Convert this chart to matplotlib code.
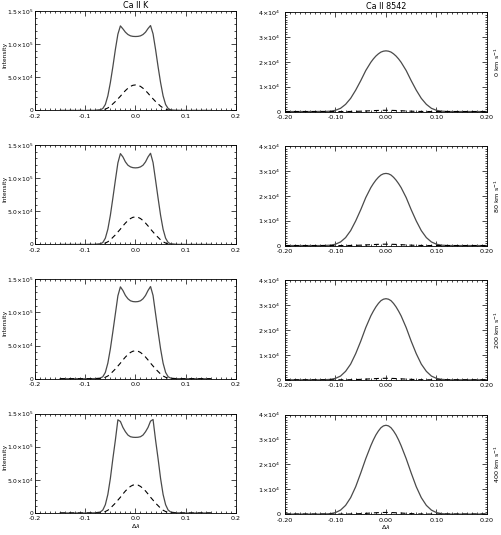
import numpy as np
import matplotlib
matplotlib.use('Agg')
import matplotlib.pyplot as plt
from matplotlib.ticker import FixedLocator, MultipleLocator

# wavelength grids
lx = [-0.15, -0.10, -0.08, -0.07, -0.065, -0.06, -0.055, -0.05, -0.045, -0.04, -0.035, -0.03,
      -0.025, -0.02, -0.015, -0.01, -0.005, 0.0, 0.005, 0.01, 0.015, 0.02, 0.025, 0.03,
      0.035, 0.04, 0.045, 0.05, 0.055, 0.06, 0.065, 0.07, 0.08, 0.10, 0.15]
rx = [-0.20, -0.15, -0.13, -0.12, -0.11, -0.10, -0.09, -0.08, -0.07, -0.06, -0.05, -0.04,
      -0.03, -0.025, -0.02, -0.015, -0.01, -0.005, 0.0, 0.005, 0.01, 0.015, 0.02, 0.025, 0.03,
      0.04, 0.05, 0.06, 0.07, 0.08, 0.09, 0.10, 0.11, 0.12, 0.13, 0.15, 0.20]

# Ca II K, solid and dashed
k_solid_0 = [0, 0, 200, 1000, 3000, 9000, 22000, 42000, 66000, 92000, 115000, 127500,
             123000, 118000, 114500, 112500, 111700, 111500, 111700, 112500, 114500, 118000, 123500, 128000,
             115500, 92000, 66000, 42000, 22000, 9000, 3000, 1000, 200, 0, 0]
k_solid_80 = [0, 0, 200, 1000, 3000, 9500, 23000, 44000, 70000, 97000, 123000, 137000,
              132000, 124500, 119500, 117000, 115800, 115500, 115800, 117000, 119500, 124500, 132000, 137500,
              123500, 97000, 70000, 44000, 23000, 9500, 3000, 1000, 200, 0, 0]
k_solid_200 = [0, 0, 200, 1000, 3000, 9500, 23500, 45000, 71000, 98000, 125000, 138500,
               133000, 125500, 120500, 117500, 116300, 116000, 116300, 117500, 120500, 125500, 133000, 139000,
               125500, 98000, 71000, 45000, 23500, 9500, 3000, 1000, 200, 0, 0]
k_solid_400 = [0, 0, 300, 1500, 4500, 12500, 28000, 52000, 82000, 110000, 140500, 138000,
               129000, 122500, 117500, 115000, 114200, 114000, 114200, 115000, 117500, 122500, 129000, 138500,
               141000, 110000, 82000, 52000, 28000, 12500, 4500, 1500, 300, 0, 0]

k_dash_0 = [0, 0, 0, 200, 700, 2000, 3800, 6500, 10000, 13500, 17500, 21500,
            26000, 30000, 33500, 36300, 38000, 38500, 38000, 36300, 33500, 30000, 26000, 21500,
            17500, 13500, 10000, 6500, 3800, 2000, 700, 200, 0, 0, 0]
k_dash_80 = [0, 0, 0, 200, 800, 2200, 4100, 7000, 10800, 14500, 18900, 23200,
             28000, 32300, 36100, 39100, 41000, 41500, 41000, 39100, 36100, 32300, 28000, 23200,
             18900, 14500, 10800, 7000, 4100, 2200, 800, 200, 0, 0, 0]
k_dash_200 = [0, 0, 0, 200, 800, 2200, 4150, 7100, 10900, 14700, 19100, 23500,
              28300, 32700, 36500, 39600, 41500, 42000, 41500, 39600, 36500, 32700, 28300, 23500,
              19100, 14700, 10900, 7100, 4150, 2200, 800, 200, 0, 0, 0]
k_dash_400 = [0, 0, 0, 200, 800, 2250, 4200, 7200, 11100, 14900, 19400, 23800,
              28700, 33200, 37000, 40100, 42100, 42600, 42100, 40100, 37000, 33200, 28700, 23800,
              19400, 14900, 11100, 7200, 4200, 2250, 800, 200, 0, 0, 0]

# Ca II 8542, solid and dashed
ir_solid_0 = [0, 0, 40, 40, 150, 500, 1300, 2900, 5300, 8600, 12400, 16500,
              19800, 21150, 22300, 23200, 23900, 24270, 24400, 24270, 23900, 23200, 22300, 21150, 19800,
              16500, 12400, 8600, 5300, 2900, 1300, 500, 150, 40, 0, 0, 0]
ir_solid_80 = [0, 0, 0, 45, 160, 550, 1450, 3200, 6000, 9900, 14400, 19300,
               23300, 24900, 26300, 27450, 28350, 28840, 29000, 28840, 28350, 27450, 26300, 24900, 23300,
               19300, 14400, 9900, 6000, 3200, 1450, 550, 160, 45, 0, 0, 0]
ir_solid_200 = [0, 0, 0, 45, 170, 580, 1500, 3400, 6300, 10500, 15500, 21000,
                25700, 27600, 29300, 30700, 31800, 32400, 32600, 32400, 31800, 30700, 29300, 27600, 25700,
                21000, 15500, 10500, 6300, 3400, 1500, 580, 170, 45, 0, 0, 0]
ir_solid_400 = [0, 0, 0, 50, 180, 600, 1600, 3500, 6600, 11000, 16500, 22300,
                27500, 29800, 31800, 33400, 34700, 35450, 35700, 35450, 34700, 33400, 31800, 29800, 27500,
                22300, 16500, 11000, 6600, 3500, 1600, 600, 180, 50, 0, 0, 0]

ir_dash_0 = [0, 0, 0, 0, 0, 0, 0, 15, 35, 75, 140, 225,
             320, 365, 410, 445, 475, 495, 500, 495, 475, 445, 410, 365, 320,
             225, 140, 75, 35, 15, 0, 0, 0, 0, 0, 0, 0]
ir_dash_80 = [0, 0, 0, 0, 0, 0, 0, 17, 40, 80, 155, 250,
              350, 400, 450, 490, 520, 545, 550, 545, 520, 490, 450, 400, 350,
              250, 155, 80, 40, 17, 0, 0, 0, 0, 0, 0, 0]
ir_dash_200 = [0, 0, 0, 0, 0, 0, 0, 18, 42, 90, 170, 270,
               385, 440, 490, 535, 570, 592, 600, 592, 570, 535, 490, 440, 385,
               270, 170, 90, 42, 18, 0, 0, 0, 0, 0, 0, 0]
ir_dash_400 = [0, 0, 0, 0, 0, 0, 0, 20, 45, 100, 180, 290,
               415, 475, 530, 580, 620, 642, 650, 642, 620, 580, 530, 475, 415,
               290, 180, 100, 45, 20, 0, 0, 0, 0, 0, 0, 0]

velocities = ['0', '80', '200', '400']
k_solid = [k_solid_0, k_solid_80, k_solid_200, k_solid_400]
k_dash = [k_dash_0, k_dash_80, k_dash_200, k_dash_400]
ir_solid = [ir_solid_0, ir_solid_80, ir_solid_200, ir_solid_400]
ir_dash = [ir_dash_0, ir_dash_80, ir_dash_200, ir_dash_400]

k_yticks = [0, 50000, 100000, 150000]
k_ylabels = ['0', '5.0×10$^{4}$', '1.0×10$^{5}$', '1.5×10$^{5}$']
ir_yticks = [0, 10000, 20000, 30000, 40000]
ir_ylabels = ['0', '1×10$^{4}$', '2×10$^{4}$', '3×10$^{4}$', '4×10$^{4}$']
k_xticks = [-0.2, -0.1, 0.0, 0.1, 0.2]
k_xlabels = ['-0.2', '-0.1', '0.0', '0.1', '0.2']
ir_xticks = [-0.2, -0.1, 0.0, 0.1, 0.2]
ir_xlabels = ['-0.20', '-0.10', '0.00', '0.10', '0.20']

plt.rcParams['font.family'] = 'DejaVu Sans'
plt.rcParams['mathtext.fontset'] = 'dejavusans'
fs = 4.6

fig = plt.figure(figsize=(5.01, 5.35), dpi=100)

bottoms = [0.7935, 0.5430, 0.2921, 0.0411]
h = 0.186
line_col = '#4a4a4a'


def style_axes(ax, xticks, xlabels, yticks, ylabels, xminor, yminor, ypad, ysize):
    ax.xaxis.set_major_locator(FixedLocator(xticks))
    ax.set_xticklabels(xlabels)
    ax.yaxis.set_major_locator(FixedLocator(yticks))
    ax.set_yticklabels(ylabels)
    ax.xaxis.set_minor_locator(MultipleLocator(xminor))
    ax.yaxis.set_minor_locator(MultipleLocator(yminor))
    ax.tick_params(which='both', direction='in', top=True, right=True, labelsize=fs,
                   width=0.5)
    ax.tick_params(axis='x', pad=2.5)
    ax.tick_params(axis='y', pad=ypad, labelsize=ysize)
    ax.tick_params(which='major', length=3.5)
    ax.tick_params(which='minor', length=1.6)
    for s in ax.spines.values():
        s.set_linewidth(0.6)


for i in range(4):
    axl = fig.add_axes([0.0699, bottoms[i], 0.401, h])
    axl.plot(lx, k_solid[i], color=line_col, lw=0.9)
    axl.plot(lx, k_dash[i], color='black', lw=0.8, dashes=(4.5, 3.5))
    axl.set_xlim(-0.2, 0.2)
    axl.set_ylim(0, 150000)
    style_axes(axl, k_xticks, k_xlabels, k_yticks, k_ylabels, 0.01, 10000, 1.0, 4.3)
    axl.text(-0.152, 0.56, 'Intensity', rotation=90, transform=axl.transAxes,
             ha='center', va='center', fontsize=4.3)

    axr = fig.add_axes([0.5689, bottoms[i] - 0.002, 0.403, h])
    axr.plot(rx, ir_solid[i], color=line_col, lw=0.9)
    axr.plot(rx, ir_dash[i], color='black', lw=0.8, dashes=(4.5, 3.5))
    axr.set_xlim(-0.2, 0.2)
    axr.set_ylim(0, 40000)
    style_axes(axr, ir_xticks, ir_xlabels, ir_yticks, ir_ylabels, 0.01, 1000, 3.5, fs)
    axr.text(1.05, 0.5, velocities[i] + ' km s$^{-1}$', rotation=90,
             transform=axr.transAxes, ha='center', va='center', fontsize=fs)

    if i == 0:
        axl.set_title('Ca II K', fontsize=5.8, pad=2)
        axr.set_title('Ca II 8542', fontsize=5.8, pad=2)
    if i == 3:
        axl.set_xlabel(r'$\Delta\lambda$', fontsize=fs, labelpad=0.5)
        axr.set_xlabel(r'$\Delta\lambda$', fontsize=fs, labelpad=0.5)

fig.savefig('out.png', dpi=100)
